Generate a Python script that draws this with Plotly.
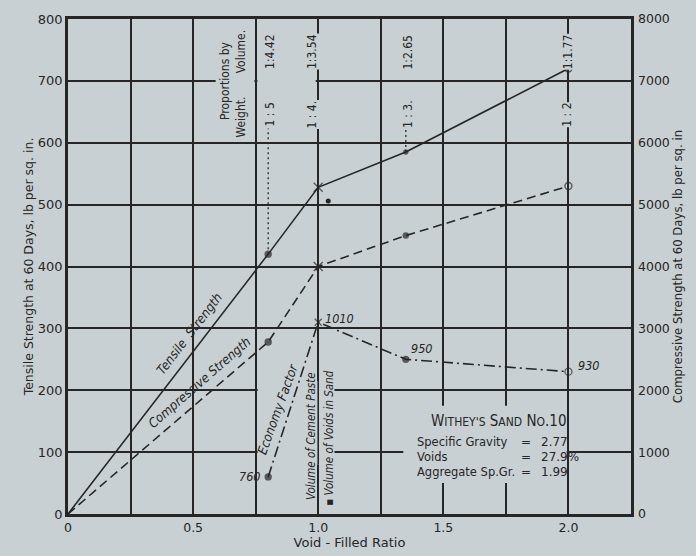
import plotly.graph_objects as go

# Void-filled ratio of the mortar mixes
ratio = [0, 0.8, 1.0, 1.35, 2.0]
# Tensile strength at 60 days, lb per sq. in. (left axis)
tensile = [0, 420, 528, 585, 720]
# Compressive strength at 60 days, lb per sq. in. (right axis)
compressive = [0, 2780, 4000, 4500, 5300]
# Economy factor for each mix
econ_ratio = [0.8, 1.0, 1.35, 2.0]
economy = [760, 1010, 950, 930]
# Mix proportions
prop_ratio = [0.8, 1.0, 1.35, 2.0]
prop_volume = ["1:4.42", "1:3.54", "1:2.65", "1:1.77"]
prop_weight = ["1 : 5", "1 : 4.", "1 : 3.", "1 : 2"]
# Tick labels
x_ticks = [0, 0.5, 1.0, 1.5, 2.0]
x_ticktext = ["0", "0.5", "1.0", "1.5", "2.0"]

BG = "#c9d0d3"
INK = "#262626"
FONT = "DejaVu Sans, sans-serif"
COND = "DejaVu Sans Condensed, DejaVu Sans, sans-serif"

fig = go.Figure()

# Tensile strength (solid)
fig.add_trace(go.Scatter(
    x=ratio, y=tensile, mode="lines+markers", yaxis="y",
    line=dict(color=INK, width=1.6),
    marker=dict(symbol=["circle", "circle", "x-thin-open", "circle", "circle-open"],
                size=[0, 6, 9, 4, 7], color=INK, line=dict(color=INK, width=1.4)),
    showlegend=False, hoverinfo="skip"))

# Compressive strength (dashed)
fig.add_trace(go.Scatter(
    x=ratio, y=compressive, mode="lines+markers", yaxis="y2",
    line=dict(color=INK, width=1.6, dash="9px,5px"),
    marker=dict(symbol=["circle", "circle", "x-thin-open", "circle", "circle-open"],
                size=[0, 6, 9, 5, 7], color=INK, line=dict(color=INK, width=1.4)),
    showlegend=False, hoverinfo="skip"))

# Economy factor (dash-dot)
fig.add_trace(go.Scatter(
    x=econ_ratio, y=economy, mode="lines+markers", yaxis="y3",
    line=dict(color=INK, width=1.6, dash="11px,4px,2px,4px"),
    marker=dict(symbol=["circle", "x-thin-open", "circle", "circle-open"],
                size=[6, 7, 6, 7], color=INK, line=dict(color=INK, width=1.3)),
    showlegend=False, hoverinfo="skip"))

# Dotted leaders from the weight proportions to the tensile curve
fig.add_trace(go.Scatter(
    x=[prop_ratio[0], prop_ratio[0], None, prop_ratio[2], prop_ratio[2]],
    y=[tensile[1], 623, None, tensile[3], 623], yaxis="y", mode="lines",
    line=dict(color=INK, width=1.3, dash="2px,3px"),
    showlegend=False, hoverinfo="skip"))

# Stray ink dot near the 1:4 mix
fig.add_trace(go.Scatter(
    x=[1.04], y=[506], yaxis="y", mode="markers",
    marker=dict(size=5, color=INK), showlegend=False, hoverinfo="skip"))

ann = []
itx = dict(family=COND, size=13, color=INK, style="italic")

# Proportion labels at the top
ann.append(dict(x=0.628, y=700, xref="x", yref="y", text="Proportions by",
                textangle=-90, showarrow=False, font=dict(family=COND, size=12, color=INK)))
ann.append(dict(x=0.692, y=748, xref="x", yref="y", text="Volume.",
                textangle=-90, showarrow=False, font=dict(family=COND, size=12, color=INK)))
ann.append(dict(x=0.692, y=641, xref="x", yref="y", text="Weight.",
                textangle=-90, showarrow=False, font=dict(family=COND, size=12, color=INK)))
vol_shift = [2, -6, 2, -1]
for r, v, w, s in zip(prop_ratio, prop_volume, prop_weight, vol_shift):
    ann.append(dict(x=r, y=747, xref="x", yref="y", text=v, textangle=-90,
                    showarrow=False, xshift=s, bgcolor=BG, borderpad=0,
                    font=dict(family=COND, size=12, color=INK)))
    ann.append(dict(x=r, y=646, xref="x", yref="y", text=w, textangle=-90,
                    showarrow=False, xshift=s, bgcolor=BG, borderpad=0,
                    font=dict(family=COND, size=12, color=INK)))

# Curve names along the lines
ann.append(dict(x=0.485, y=292, xref="x", yref="y", text="Tensile  Strength",
                textangle=-52.6, showarrow=False, font=itx))
ann.append(dict(x=0.525, y=213, xref="x", yref="y", text="Compressive Strength",
                textangle=-41, showarrow=False, font=itx))
ann.append(dict(x=0.84, y=170, xref="x", yref="y", text="Economy Factor",
                textangle=-70, showarrow=False, font=itx))
ann.append(dict(x=0.968, y=125, xref="x", yref="y", text="Volume of Cement Paste",
                textangle=-90, showarrow=False,
                font=dict(family=COND, size=11.5, color=INK, style="italic")))
ann.append(dict(x=1.04, y=122, xref="x", yref="y", text="▪ Volume of Voids in Sand",
                textangle=-90, showarrow=False,
                font=dict(family=COND, size=11.5, color=INK, style="italic")))

# Economy factor values
econ_pos = [("right", -6, 0), ("left", 5, 4), ("left", 3, 11), ("left", 8, 6)]
for r, v, (anc, dx, dy) in zip(econ_ratio, economy, econ_pos):
    ann.append(dict(x=r, y=v, xref="x", yref="y3", text=str(v), xanchor=anc,
                    xshift=dx, yshift=dy, showarrow=False,
                    font=dict(family=COND, size=12.5, color=INK, style="italic")))

# Sand description
ann.append(dict(x=1.72, y=150, xref="x", yref="y",
                text="W<span style='font-size:12px'>ITHEY'S</span> S<span style='font-size:12px'>AND</span> N<span style='font-size:12px'>O</span>.10",
                showarrow=False, font=dict(family=COND, size=15, color=INK)))
rows = [("Specific Gravity", "2.77", 116), ("Voids", "27.9%", 92),
        ("Aggregate Sp.Gr.", "1.99", 68)]
for lab, val, yy in rows:
    ann.append(dict(x=1.386, y=yy, xref="x", yref="y", text=lab, xanchor="left",
                    showarrow=False, font=dict(family=FONT, size=11.5, color=INK)))
    ann.append(dict(x=1.832, y=yy, xref="x", yref="y", text="=",
                    showarrow=False, font=dict(family=FONT, size=12, color=INK)))
    ann.append(dict(x=1.882, y=yy, xref="x", yref="y", text=val, xanchor="left",
                    showarrow=False, font=dict(family=FONT, size=12, color=INK)))

# Breaks in the grid behind lettering
gap = dict(type="rect", xref="x", yref="y", layer="between",
           fillcolor=BG, line=dict(width=0))
shapes = [
    dict(gap, x0=0.59, x1=0.745, y0=690, y1=712),
    dict(gap, x0=0.757, x1=0.99, y0=690, y1=712),
    dict(gap, x0=0.758, x1=1.065, y0=80, y1=215),
    dict(gap, x0=1.34, x1=1.993, y0=50, y1=175),
    dict(type="line", xref="x", yref="y", layer="between", x0=1.0, x1=1.0,
         y0=80, y1=215, line=dict(color=INK, width=1.6)),
]

fig.update_layout(
    width=696, height=556,
    margin=dict(l=68, r=65, t=19, b=42),
    paper_bgcolor=BG, plot_bgcolor=BG,
    font=dict(family=FONT, color=INK),
    xaxis=dict(range=[0, 2.25], tickvals=x_ticks, ticktext=x_ticktext,
               showgrid=True, gridcolor=INK, gridwidth=1.6, automargin=False,
               minor=dict(dtick=0.25, showgrid=True, gridcolor=INK, gridwidth=1.6),
               showline=True, mirror=True, linecolor=INK, linewidth=2.5,
               zeroline=False, ticks="", tickfont=dict(family=FONT, size=12.5, color=INK),
               title=dict(text="Void - Filled Ratio", standoff=4,
                          font=dict(family=FONT, size=13, color=INK))),
    yaxis=dict(range=[0, 800], dtick=100, showgrid=True, gridcolor=INK, gridwidth=1.6,
               showline=True, mirror=True, linecolor=INK, linewidth=2.5, automargin=False,
               zeroline=False, ticks="", tickfont=dict(family=FONT, size=13, color=INK),
               title=dict(text="Tensile Strength at 60 Days, lb per sq. in.",
                          standoff=2, font=dict(family=FONT, size=12.5, color=INK))),
    yaxis2=dict(range=[0, 8000], dtick=1000, overlaying="y", side="right",
                showgrid=False, zeroline=False, ticks="", automargin=False,
                ticklabelstandoff=6,
                tickfont=dict(family=FONT, size=12.5, color=INK),
                title=dict(text="Compressive Strength at 60 Days, lb per sq. in",
                           standoff=2, font=dict(family=COND, size=13, color=INK))),
    yaxis3=dict(range=[700, 1500], overlaying="y", visible=False),
    annotations=ann, shapes=shapes,
)

fig.write_html("out.html")
